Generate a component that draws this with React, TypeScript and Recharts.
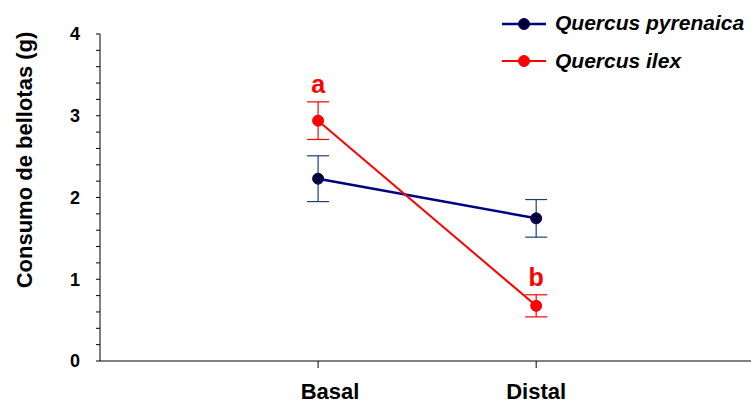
import React from 'react';
import { LineChart, Line, XAxis, YAxis, ErrorBar, LabelList } from 'recharts';

const categories = ['Basal', 'Distal'];
const positions = [1, 2];
const pyrenaica = [2.23, 1.745];
const pyrenaicaErr = [0.28, 0.23];
const ilex = [2.94, 0.675];
const ilexErr = [0.23, 0.135];
const letters = ['a', 'b'];
const seriesNames = ['Quercus pyrenaica', 'Quercus ilex'];
const yTicks = [0, 0.2, 0.4, 0.6, 0.8, 1, 1.2, 1.4, 1.6, 1.8, 2, 2.2, 2.4, 2.6, 2.8, 3, 3.2, 3.4, 3.6, 3.8, 4];

const data = categories.map((c, i) => ({
  x: positions[i],
  cat: c,
  pyr: pyrenaica[i],
  pyrErr: pyrenaicaErr[i],
  ilex: ilex[i],
  ilexErr: ilexErr[i],
  ilexTop: ilex[i] + ilexErr[i],
  sig: letters[i],
}));

const FONT = '"Liberation Sans", Arial, sans-serif';
const NAVY = '#000080';
const RED = '#FF0000';
const labelShift = [12, 0];

const LegendBox = () => (
  <svg
    width={256}
    height={80}
    style={{ position: 'absolute', left: 495, top: 0, fontFamily: FONT }}
  >
    <line x1={7} x2={51} y1={24} y2={24} stroke={NAVY} strokeWidth={2.5} />
    <circle cx={29} cy={24} r={5.5} fill="#000033" stroke={NAVY} strokeWidth={1} />
    <text x={60} y={30} fontSize={21} fontWeight="bold" fontStyle="italic" fill="#000">{seriesNames[0]}</text>
    <line x1={7} x2={51} y1={61} y2={61} stroke={RED} strokeWidth={2} />
    <circle cx={29} cy={61} r={5.5} fill={RED} stroke={RED} strokeWidth={1} />
    <text x={60} y={68} fontSize={21} fontWeight="bold" fontStyle="italic" fill="#000">{seriesNames[1]}</text>
  </svg>
);

const SigLabel = (props: any) => {
  const { x, y, value } = props;
  return (
    <text x={x} y={y - 8.5} textAnchor="middle" fill={RED} fontSize={25} fontWeight="bold" fontFamily={FONT}>
      {value}
    </text>
  );
};

const XTick = (props: any) => {
  const { x, y, payload } = props;
  const idx = positions.indexOf(payload.value);
  return (
    <text
      x={x + (labelShift[idx] ?? 0)}
      y={y + 15.5}
      textAnchor="middle"
      fill="#000"
      fontSize={22}
      fontWeight="bold"
      fontFamily={FONT}
    >
      {categories[idx] ?? ''}
    </text>
  );
};

const YLabel = () => (
  <text
    x={32}
    y={160}
    transform="rotate(-90 32 160)"
    textAnchor="middle"
    fontSize={22}
    fontWeight="bold"
    fill="#000"
    fontFamily={FONT}
  >
    Consumo de bellotas (g)
  </text>
);

export default function App() {
  return (
    <div style={{ position: 'absolute', left: 0, top: 0, width: 751, height: 403 }}>
      <LineChart
        width={751}
        height={403}
        data={data}
        margin={{ top: 34, right: 0, bottom: 0, left: 0 }}
        style={{ fontFamily: FONT }}
      >
        <XAxis
          type="number"
          dataKey="x"
          domain={[0, 2.985]}
          ticks={positions}
          height={42}
          stroke="#808080"
          strokeWidth={2}
          tickSize={7}
          tickMargin={15}
          tickLine={{ stroke: '#000', strokeWidth: 1 }}
          tick={<XTick />}
          allowDataOverflow
        />
        <YAxis
          type="number"
          domain={[0, 4]}
          ticks={yTicks}
          interval={0}
          width={100}
          stroke="#000"
          tickSize={4}
          tickMargin={16}
          tickFormatter={(v: number) => (Number.isInteger(v) ? String(v) : '')}
          tick={{ fill: '#000', fontSize: 18, fontWeight: 'bold' }}
          label={<YLabel />}
        />
        <Line
          dataKey="pyr"
          name={seriesNames[0]}
          stroke={NAVY}
          strokeWidth={2.5}
          dot={{ r: 5.5, fill: '#000033', stroke: NAVY, strokeWidth: 1 }}
          activeDot={false}
          isAnimationActive={false}
        >
          <ErrorBar dataKey="pyrErr" width={11} stroke="#1F3F6F" strokeWidth={1.2} direction="y" />
        </Line>
        <Line
          dataKey="ilex"
          name={seriesNames[1]}
          stroke={RED}
          strokeWidth={2}
          dot={{ r: 5.5, fill: RED, stroke: RED, strokeWidth: 1 }}
          activeDot={false}
          isAnimationActive={false}
        >
          <ErrorBar dataKey="ilexErr" width={11} stroke={RED} strokeWidth={1.2} direction="y" />
        </Line>
        <Line
          dataKey="ilexTop"
          stroke="none"
          dot={false}
          activeDot={false}
          legendType="none"
          isAnimationActive={false}
        >
          <LabelList dataKey="sig" content={<SigLabel />} />
        </Line>
      </LineChart>
      <LegendBox />
    </div>
  );
}
